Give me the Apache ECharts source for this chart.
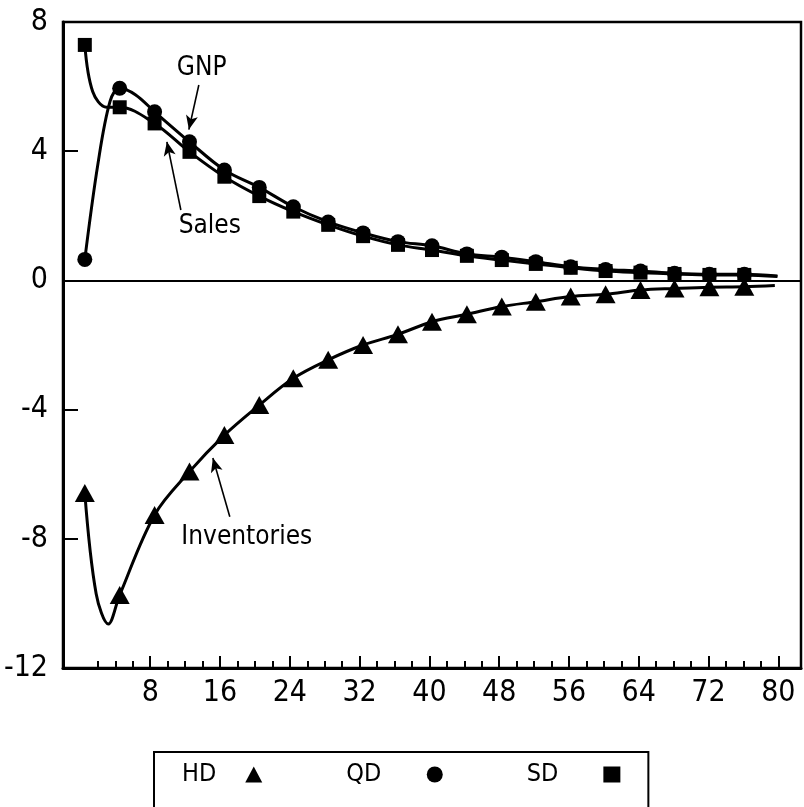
<!DOCTYPE html>
<html>
<head>
<meta charset="utf-8">
<script src="https://cdn.jsdelivr.net/npm/echarts@6/dist/echarts.min.js"></script>
<style>
  html, body { margin: 0; padding: 0; background: #fff; }
  #chart { width: 804px; height: 807px; }
</style>
</head>
<body>
<div id="chart"></div>
<script>
  // positions of the plotted markers
  var quarters = [0.5, 4.5, 8.5, 12.5, 16.5, 20.5, 24.4, 28.4, 32.4, 36.4, 40.3, 44.3, 48.3, 52.2, 56.2, 60.2, 64.2, 68.1, 72.1, 76.1]
  var hdValues = [-6.58, -9.74, -7.26, -5.92, -4.79, -3.86, -3.03, -2.46, -2.0, -1.67, -1.28, -1.05, -0.81, -0.66, -0.5, -0.43, -0.3, -0.25, -0.21, -0.2]
  var qdValues = [0.65, 5.95, 5.22, 4.29, 3.42, 2.88, 2.28, 1.81, 1.47, 1.2, 1.07, 0.82, 0.72, 0.58, 0.42, 0.34, 0.29, 0.22, 0.19, 0.19]
  var sdValues = [7.29, 5.36, 4.86, 3.98, 3.21, 2.61, 2.13, 1.72, 1.37, 1.1, 0.94, 0.76, 0.63, 0.51, 0.39, 0.29, 0.24, 0.2, 0.17, 0.17]

  // extra points where the drawn curves bend between markers or run on past the last one
  var hdBends = [[1.8, -9.7], [3.2, -10.64], [79.6, -0.16]]
  var qdBends = [[2.0, 3.6], [3.4, 5.55], [6.3, 5.75], [79.9, 0.14]]
  var sdBends = [[1.4, 5.85], [3.0, 5.36], [79.9, 0.12]]

  var xLabelValues = [8, 16, 24, 32, 40, 48, 56, 64, 72, 80]
  var xMinorTicks = [2, 4, 6, 10, 12, 14, 18, 20, 22, 26, 28, 30, 34, 36, 38, 42, 44, 46, 50, 52, 54, 58, 60, 62, 66, 68, 70, 74, 76, 78]

  var FONT = 'DejaVu Sans Condensed'

  function markerData(values) {
    return quarters.map(function(q, i) { return [q, values[i]] })
  }
  function curveData(values, bends) {
    return markerData(values).concat(bends).sort(function(a, b) { return a[0] - b[0] })
  }
  function arrow(from, to) {
    return [{ coord: from }, { coord: to }]
  }
  function note(text, at) {
    return { coord: at, value: text }
  }

  var curveStyle = { color: '#000', width: 3 }
  var arrowLine = {
    silent: true,
    symbol: ['none', 'arrow'],
    symbolSize: [9, 14],
    lineStyle: { color: '#000', width: 1.6, type: 'solid' },
    label: { show: false },
    emphasis: { disabled: true },
    animation: false
  }
  var noteStyle = {
    symbol: 'circle',
    symbolSize: 1,
    itemStyle: { color: 'rgba(0,0,0,0)' },
    label: { show: true, position: 'inside', formatter: '{c}', color: '#000', fontFamily: FONT, fontSize: 26 },
    silent: true
  }
  var lineBase = {
    type: 'line',
    smooth: 0.35,
    showSymbol: false,
    silent: true,
    lineStyle: curveStyle
  }

  var chart = echarts.init(document.getElementById('chart'))
  var option = {
    animation: false,
    backgroundColor: '#fff',
    grid: {
      left: 63, right: 3, top: 22, bottom: 139,
      show: true, borderColor: '#000', borderWidth: 2.5
    },
    legend: {
      data: [
        { name: 'HD', textStyle: { padding: [0, 24, 0, 0] } },
        { name: 'QD', textStyle: { padding: [0, 40, 0, 0] } },
        { name: 'SD', textStyle: { padding: [0, 40, 0, 0] } }
      ],
      align: 'right',
      left: 154,
      top: 752,
      itemGap: 84,
      itemWidth: 17,
      itemHeight: 16,
      padding: [10, 28, 60, 28],
      borderColor: '#000',
      borderWidth: 2,
      selectedMode: false,
      textStyle: { color: '#000', fontFamily: FONT, fontSize: 25 }
    },
    xAxis: [{
      type: 'value',
      min: -2,
      max: 82.6,
      axisLine: { onZero: false, lineStyle: { color: '#000', width: 3 } },
      axisTick: { inside: true, length: 12, customValues: xLabelValues, lineStyle: { color: '#000', width: 2 } },
      axisLabel: { customValues: xLabelValues, color: '#000', fontFamily: FONT, fontSize: 30, margin: 10 },
      splitLine: { show: false }
    }, {
      type: 'value',
      position: 'bottom',
      min: -2,
      max: 82.6,
      axisLine: { show: false, onZero: false },
      axisTick: { inside: true, length: 7, customValues: xMinorTicks, lineStyle: { color: '#000', width: 2 } },
      axisLabel: { show: false },
      splitLine: { show: false }
    }],
    yAxis: {
      type: 'value',
      min: -12,
      max: 8,
      interval: 4,
      axisLine: { show: true, onZero: false, lineStyle: { color: '#000', width: 3 } },
      axisTick: { show: true, inside: true, length: 15, lineStyle: { color: '#000', width: 2 } },
      axisLabel: { color: '#000', fontFamily: FONT, fontSize: 30, margin: 15 },
      splitLine: { show: false }
    },
    series: [
      Object.assign({
        name: 'Inventories',
        data: curveData(hdValues, hdBends),
        markLine: Object.assign({ data: [arrow([17.12, -7.32], [15.18, -5.5])] }, arrowLine),
        markPoint: Object.assign({ data: [note('Inventories', [19.07, -7.94])] }, noteStyle)
      }, lineBase),
      Object.assign({
        name: 'GNP',
        data: curveData(qdValues, qdBends),
        markLine: Object.assign({ data: [arrow([13.57, 6.05], [12.43, 4.67])] }, arrowLine),
        markPoint: Object.assign({ data: [note('GNP', [13.9, 6.56])] }, noteStyle)
      }, lineBase),
      Object.assign({
        name: 'Sales',
        data: curveData(sdValues, sdBends),
        markLine: Object.assign({ data: [arrow([11.51, 2.18], [9.91, 4.29])] }, arrowLine),
        markPoint: Object.assign({ data: [note('Sales', [14.83, 1.68])] }, noteStyle)
      }, lineBase),
      {
        // zero line across the plot
        name: 'zero',
        type: 'line',
        data: [],
        silent: true,
        markLine: {
          silent: true,
          symbol: ['none', 'none'],
          label: { show: false },
          lineStyle: { color: '#000', width: 2, type: 'solid' },
          data: [{ yAxis: 0 }]
        }
      },
      {
        name: 'HD',
        type: 'scatter',
        data: markerData(hdValues),
        symbol: 'triangle',
        symbolSize: [20, 18],
        itemStyle: { color: '#000', opacity: 1 },
        z: 5
      },
      {
        name: 'QD',
        type: 'scatter',
        data: markerData(qdValues),
        symbol: 'circle',
        symbolSize: 15,
        itemStyle: { color: '#000', opacity: 1 },
        z: 5
      },
      {
        name: 'SD',
        type: 'scatter',
        data: markerData(sdValues),
        symbol: 'rect',
        symbolSize: 14,
        itemStyle: { color: '#000', opacity: 1 },
        z: 5
      }
    ]
  }
  chart.setOption(option)
</script>
</body>
</html>
